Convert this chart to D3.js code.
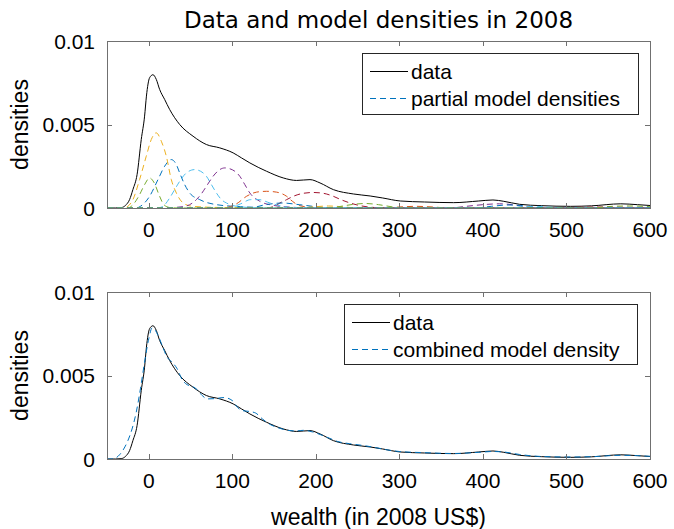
<!DOCTYPE html>
<html>
<head>
<meta charset="utf-8">
<script src="https://cdn.jsdelivr.net/npm/d3@7"></script>
<style>
  html, body { margin: 0; padding: 0; background: #fff; }
  svg { display: block; }
  text { font-family: "Liberation Sans", Arial, sans-serif; fill: #000; }
</style>
</head>
<body>
<svg id="chart" width="674" height="529"></svg>
<script>
// ---------------- DATA ----------------
const titleText = "Data and model densities in 2008";
const xLabelText = "wealth (in 2008 US$)";
const yLabelText = "densities";
const xTicks = [0, 100, 200, 300, 400, 500, 600];
const yTicks = [0, 0.005, 0.01];
const yTickLabels = ["0", "0.005", "0.01"];
const legendTop = ["data", "partial model densities"];
const legendBottom = ["data", "combined model density"];

// data density (wealth, density)
const dataCurve = [
  [-50,0],[-40,0],[-33,0.00002],[-28,0.00015],[-23,0.0005],[-19,0.0011],[-14,0.002],
  [-9,0.0041],[-5,0.0055],[-2.8,0.0067],[1,0.0078],[5,0.00798],[9,0.0077],[13,0.0071],
  [19,0.0065],[25,0.0059],[37,0.005],[53,0.0043],[69,0.0038],[85,0.0036],[101,0.0033],
  [111,0.003],[121,0.0027],[141,0.0022],[161,0.0018],[177,0.00165],[193,0.0017],
  [205,0.0015],[221,0.0011],[245,0.00084],[265,0.00072],[280,0.0006],[301,0.00042],
  [330,0.00036],[365,0.00032],[395,0.00042],[412,0.00048],[425,0.0004],[444,0.00022],
  [470,0.00014],[505,0.0001],[530,0.00013],[565,0.00025],[585,0.0002],[600,0.00015]
];

// combined model density
const modelCurve = [
  [-50,0],[-45,0],[-40,0.00005],[-35,0.00025],[-30,0.0006],[-25,0.0011],[-20,0.0018],
  [-15,0.0028],[-10,0.0042],[-5,0.0058],[0,0.0072],[4,0.00785],[8,0.0077],[12,0.0073],
  [16,0.0068],[22,0.0061],[28,0.0058],[34,0.0054],[40,0.00475],[46,0.00445],[52,0.00435],
  [58,0.00415],[64,0.0038],[70,0.0036],[80,0.00362],[90,0.00368],[100,0.0035],[106,0.0031],
  [112,0.0029],[120,0.00285],[128,0.00275],[136,0.0024],[146,0.00205],[156,0.00185],
  [166,0.00172],[176,0.00168],[186,0.00172],[196,0.00162],[206,0.00145],[216,0.00125],
  [226,0.00105],[240,0.00092],[255,0.00082],[270,0.0007],[285,0.00055],[300,0.00045],
  [330,0.00038],[365,0.00033],[395,0.0004],[412,0.00045],[425,0.00042],[444,0.00027],
  [470,0.00015],[505,0.00012],[530,0.00014],[565,0.00022],[585,0.0002],[600,0.00016]
];

// partial model densities (MATLAB colour order), each spans the full wealth range
const partialBlue = [[-50,0],[-15,0],[-10,0.0001],[1,0.0007],[11,0.0017],[19,0.0025],[27,0.0029],[33,0.0026],[37,0.0021],[43,0.0014],[49,0.0009],[61,0.0005],[81,0.0002],[110,0.00008],[150,0.00002],[180,0],[600,0]];
const partialOrange = [[-50,0],[85,0],[95,0.00005],[105,0.00025],[117,0.0007],[129,0.00095],[141,0.001],[153,0.00095],[165,0.0007],[172,0.0004],[180,0.00015],[195,0.00004],[215,0],[600,0]];
const partialYellow = [[-50,0],[-30,0],[-25,0.0001],[-19,0.0005],[-11,0.0017],[-3,0.0031],[3,0.0041],[9,0.0045],[15,0.004],[21,0.0031],[27,0.0017],[33,0.0009],[40,0.00035],[50,0.00012],[70,0.00005],[100,0.00002],[150,0],[600,0]];
const partialPurple = [[-50,0],[20,0],[35,0.00005],[45,0.00012],[57,0.0005],[63,0.00085],[69,0.0013],[77,0.0019],[85,0.0023],[91,0.0024],[97,0.00235],[103,0.0022],[109,0.0019],[115,0.0014],[121,0.0009],[133,0.0004],[150,0.00015],[170,0.00005],[200,0],[600,0]];
const partialGreen = [[-50,0],[-25,0],[-18,0.00025],[-11,0.0008],[-5,0.0014],[1,0.0018],[6,0.00155],[13,0.0007],[18,0.0002],[25,0.00003],[35,0],[600,0]];
const partialLightBlue = [[-50,0],[10,0],[17,0.0001],[25,0.0006],[31,0.0011],[37,0.0016],[45,0.0021],[55,0.0023],[62,0.0022],[69,0.0019],[75,0.0014],[81,0.0009],[87,0.0005],[93,0.0003],[105,0.0001],[120,0.00003],[140,0],[600,0]];
const partialDarkRed = [[-50,0],[140,0],[150,0.0001],[157,0.0003],[165,0.0005],[173,0.0007],[185,0.00088],[197,0.00093],[209,0.00088],[221,0.0007],[230,0.0005],[241,0.0003],[255,0.00012],[270,0.00003],[290,0],[600,0]];
const partialBlue2 = [[-50,0],[120,0],[140,0.0002],[160,0.0003],[180,0.0002],[200,0.00008],[220,0],[600,0]];
const partialOrange2 = [[-50,0],[280,0],[300,0.00006],[320,0.0001],[340,0.00006],[360,0],[600,0]];
const partialYellow2 = [[-50,0],[180,0],[200,0.00008],[215,0.00012],[230,0.00008],[250,0],[600,0]];
const partialPurple2 = [[-50,0],[360,0],[380,0.0001],[400,0.0002],[420,0.00025],[435,0.0002],[450,0.00008],[470,0],[600,0]];
const partialGreen2 = [[-50,0],[215,0],[230,0.0001],[245,0.00022],[260,0.00027],[275,0.0002],[290,0.00008],[305,0],[600,0]];
const partialLightBlue2 = [[-50,0],[95,0],[110,0.00025],[122,0.0005],[132,0.0005],[145,0.0003],[160,0.0001],[175,0],[600,0]];
const partialDarkRed2 = [[-50,0],[480,0],[510,0.00004],[540,0.00006],[570,0.00004],[600,0.00002]];
const partialBlue3 = [[-50,0],[390,0],[410,0.0001],[430,0.00018],[445,0.00015],[460,0.00005],[480,0],[600,0]];
const partialLightBlue3 = [[-50,0],[430,0],[450,0.00008],[465,0.0001],[480,0.00005],[500,0],[600,0]];
const partialGreen3 = [[-50,0],[530,0],[555,0.0001],[575,0.00012],[600,0.00008]];

const partials = [
  {pts: partialBlue, color: "#0072BD"},
  {pts: partialOrange, color: "#D95319"},
  {pts: partialYellow, color: "#EDB120"},
  {pts: partialPurple, color: "#7E2F8E"},
  {pts: partialGreen, color: "#77AC30"},
  {pts: partialLightBlue, color: "#4DBEEE"},
  {pts: partialDarkRed, color: "#A2142F"},
  {pts: partialBlue2, color: "#0072BD"},
  {pts: partialOrange2, color: "#D95319"},
  {pts: partialYellow2, color: "#EDB120"},
  {pts: partialPurple2, color: "#7E2F8E"},
  {pts: partialGreen2, color: "#77AC30"},
  {pts: partialLightBlue2, color: "#4DBEEE"},
  {pts: partialDarkRed2, color: "#A2142F"},
  {pts: partialBlue3, color: "#0072BD"},
  {pts: partialLightBlue3, color: "#4DBEEE"},
  {pts: partialGreen3, color: "#77AC30"}
];

// ---------------- DRAW ----------------
const svg = d3.select("#chart");
const axisColor = "#707070";
const tickFont = "21px", labelFont = "23px";
const left = 107, right = 650;
const x = d3.scaleLinear().domain([-50, 600]).range([left, right]);
const panels = [
  {top: 41, bottom: 208},
  {top: 292, bottom: 459}
];

svg.append("text").attr("x", (left + right) / 2).attr("y", 28)
  .attr("text-anchor", "middle").style("font-family", "'DejaVu Sans', sans-serif")
  .style("font-size", "23px").text(titleText);

function drawAxes(g, y, p) {
  g.append("rect").attr("x", left + 0.5).attr("y", p.top + 0.5)
    .attr("width", right - left).attr("height", p.bottom - p.top)
    .attr("fill", "none").attr("stroke", axisColor).attr("stroke-width", 1);
  xTicks.forEach(t => {
    const px = Math.round(x(t)) + 0.5;
    g.append("line").attr("x1", px).attr("x2", px).attr("y1", p.bottom).attr("y2", p.bottom - 5).attr("stroke", axisColor);
    g.append("line").attr("x1", px).attr("x2", px).attr("y1", p.top).attr("y2", p.top + 5).attr("stroke", axisColor);
    g.append("text").attr("x", x(t)).attr("y", p.bottom + 29).attr("text-anchor", "middle")
      .style("font-size", tickFont).text(d3.format("d")(t));
  });
  yTicks.forEach((t, i) => {
    const py = Math.round(y(t)) + 0.5;
    g.append("line").attr("x1", left).attr("x2", left + 5).attr("y1", py).attr("y2", py).attr("stroke", axisColor);
    g.append("line").attr("x1", right).attr("x2", right - 5).attr("y1", py).attr("y2", py).attr("stroke", axisColor);
    g.append("text").attr("x", left - 12).attr("y", y(t) + 7.5).attr("text-anchor", "end")
      .style("font-size", tickFont).text(yTickLabels[i]);
  });
  g.append("text").attr("transform", `translate(28,${(p.top + p.bottom) / 2}) rotate(-90)`)
    .attr("text-anchor", "middle").style("font-size", labelFont).text(yLabelText);
}

function lineGen(y) {
  return d3.line().x(d => x(d[0])).y(d => y(d[1])).curve(d3.curveMonotoneX);
}

// top panel
{
  const p = panels[0];
  const y = d3.scaleLinear().domain([0, 0.01]).range([p.bottom, p.top]);
  const g = svg.append("g");
  svg.append("clipPath").attr("id", "clipTop").append("rect")
    .attr("x", left).attr("y", p.top).attr("width", right - left + 1).attr("height", p.bottom - p.top + 1);
  const plot = g.append("g").attr("clip-path", "url(#clipTop)");
  plot.append("path").datum(dataCurve).attr("d", lineGen(y)).attr("fill", "none")
    .attr("stroke", "#000").attr("stroke-width", 1);
  partials.forEach(s => {
    plot.append("path").datum(s.pts).attr("d", lineGen(y)).attr("fill", "none")
      .attr("stroke", s.color).attr("stroke-width", 1).attr("stroke-dasharray", "6,4");
  });
  drawAxes(g, y, p);
  const lg = g.append("g");
  lg.append("rect").attr("x", 362.5).attr("y", 53.5).attr("width", 276).attr("height", 61)
    .attr("fill", "#fff").attr("stroke", "#262626").attr("stroke-width", 1);
  lg.append("line").attr("x1", 370).attr("x2", 408).attr("y1", 71.5).attr("y2", 71.5)
    .attr("stroke", "#000").attr("stroke-width", 1);
  lg.append("line").attr("x1", 370).attr("x2", 408).attr("y1", 98.5).attr("y2", 98.5)
    .attr("stroke", "#0072BD").attr("stroke-width", 1).attr("stroke-dasharray", "6,4");
  lg.append("text").attr("x", 411).attr("y", 79).style("font-size", tickFont).text(legendTop[0]);
  lg.append("text").attr("x", 411).attr("y", 106).style("font-size", tickFont).text(legendTop[1]);
}

// bottom panel
{
  const p = panels[1];
  const y = d3.scaleLinear().domain([0, 0.01]).range([p.bottom, p.top]);
  const g = svg.append("g");
  svg.append("clipPath").attr("id", "clipBot").append("rect")
    .attr("x", left).attr("y", p.top).attr("width", right - left + 1).attr("height", p.bottom - p.top + 1);
  const plot = g.append("g").attr("clip-path", "url(#clipBot)");
  plot.append("path").datum(dataCurve).attr("d", lineGen(y)).attr("fill", "none")
    .attr("stroke", "#000").attr("stroke-width", 1);
  plot.append("path").datum(modelCurve).attr("d", lineGen(y)).attr("fill", "none")
    .attr("stroke", "#0072BD").attr("stroke-width", 1).attr("stroke-dasharray", "6,4");
  drawAxes(g, y, p);
  g.append("text").attr("x", (left + right) / 2).attr("y", 525).attr("text-anchor", "middle")
    .style("font-size", labelFont).text(xLabelText);
  const lg = g.append("g");
  lg.append("rect").attr("x", 344.5).attr("y", 304.5).attr("width", 293).attr("height", 60)
    .attr("fill", "#fff").attr("stroke", "#262626").attr("stroke-width", 1);
  lg.append("line").attr("x1", 352).attr("x2", 390).attr("y1", 322.5).attr("y2", 322.5)
    .attr("stroke", "#000").attr("stroke-width", 1);
  lg.append("line").attr("x1", 352).attr("x2", 390).attr("y1", 349.5).attr("y2", 349.5)
    .attr("stroke", "#0072BD").attr("stroke-width", 1).attr("stroke-dasharray", "6,4");
  lg.append("text").attr("x", 393).attr("y", 330).style("font-size", tickFont).text(legendBottom[0]);
  lg.append("text").attr("x", 393).attr("y", 357).style("font-size", tickFont).text(legendBottom[1]);
}
</script>
</body>
</html>
